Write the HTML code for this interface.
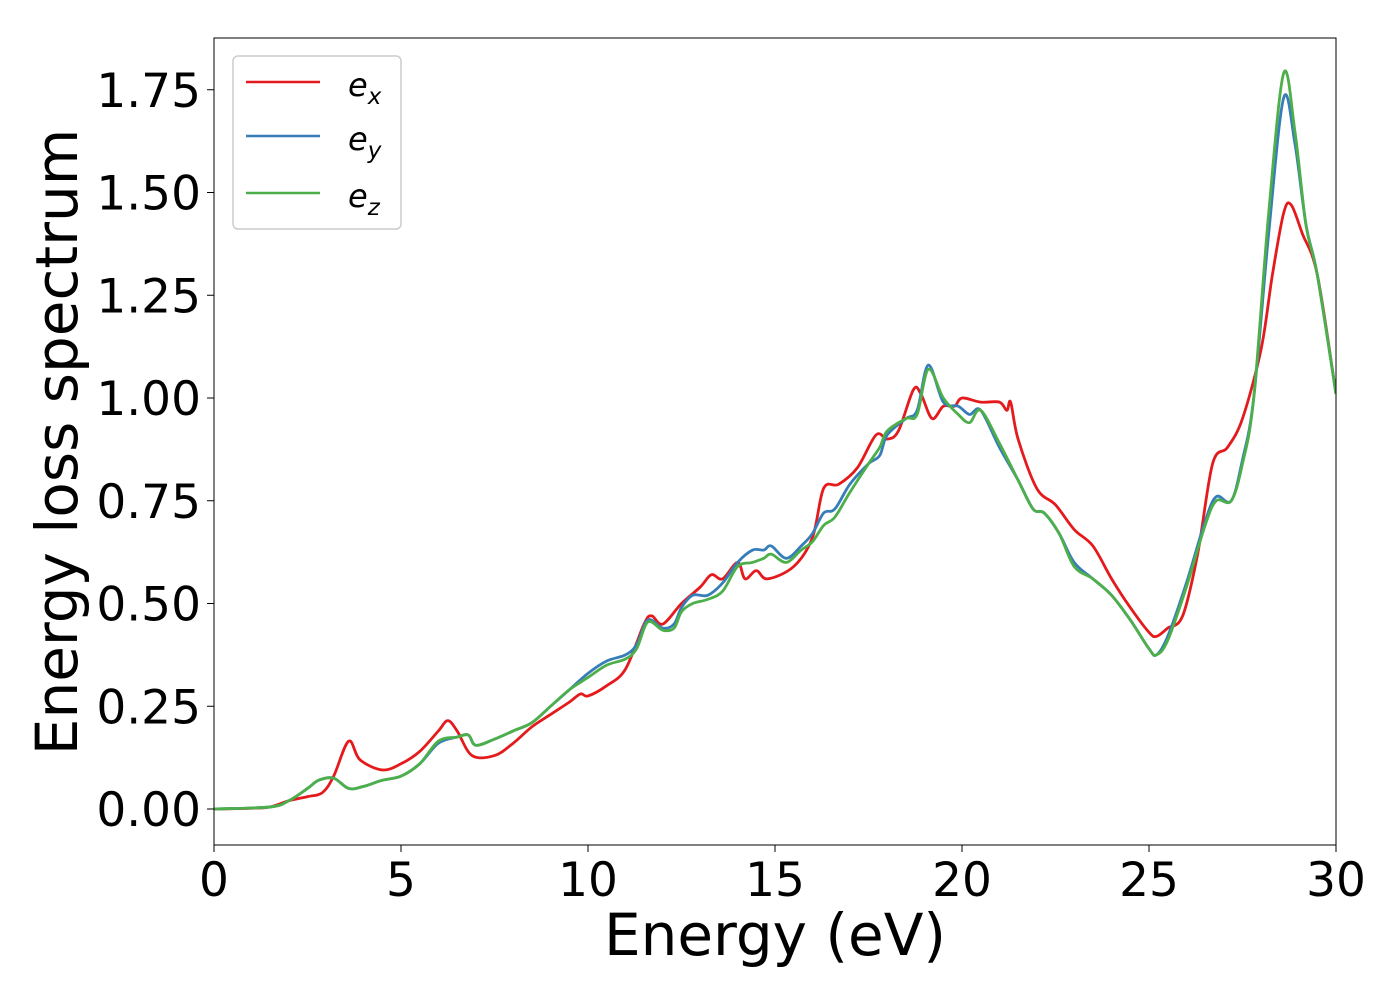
<!DOCTYPE html>
<html><head><meta charset="utf-8"><style>
body{margin:0;background:#fff;}
svg text{font-family:"DejaVu Sans","Liberation Sans",sans-serif;fill:#000;}
</style></head><body>
<svg width="1400" height="1000" viewBox="0 0 1400 1000" xmlns="http://www.w3.org/2000/svg">
<g id="plot"></g>
<g id="axes"></g>
<text x="775" y="955" font-size="58" text-anchor="middle">Energy (eV)</text>
<text transform="translate(77,442) rotate(-90)" font-size="58" text-anchor="middle">Energy loss spectrum</text>
<g>
<rect x="233" y="56" width="168" height="173" rx="5" fill="#fff" stroke="#ccc" stroke-width="1.5"/>
<g><line x1="246" y1="82" x2="320" y2="82" stroke="#e41a1c" stroke-width="2.5"/><text x="348" y="96" font-size="32" font-style="italic">e<tspan font-size="23" dy="8">x</tspan></text></g>
<g><line x1="246" y1="136" x2="320" y2="136" stroke="#377eb8" stroke-width="2.5"/><text x="348" y="150" font-size="32" font-style="italic">e<tspan font-size="23" dy="8">y</tspan></text></g>
<g><line x1="246" y1="193" x2="320" y2="193" stroke="#4daf4a" stroke-width="2.5"/><text x="348" y="207" font-size="32" font-style="italic">e<tspan font-size="23" dy="8">z</tspan></text></g>
</g>
</svg>
<script>
const xTicks=[0,5,10,15,20,25,30];
const yTicks=[0,0.25,0.5,0.75,1.0,1.25,1.5,1.75];
const yTickLabels=["0.00","0.25","0.50","0.75","1.00","1.25","1.50","1.75"];
const exE=[0,1,1.5,2,2.5,2.9,3.2,3.6,3.9,4.5,5,5.5,6,6.25,6.5,6.9,7.5,8,8.5,9,9.5,9.8,10,10.5,11,11.5,11.7,12,12.5,13,13.3,13.6,14,14.2,14.5,14.8,15.5,16,16.3,16.7,17.2,17.7,18,18.3,18.7,18.9,19.2,19.5,19.8,20,20.5,21,21.2,21.3,21.5,22,22.5,23,23.5,24,24.5,25,25.2,25.5,25.9,26.3,26.7,27.1,27.5,28,28.3,28.6,28.8,29.1,29.5,30];
const exV=[0,0.002,0.005,0.02,0.03,0.04,0.08,0.165,0.12,0.095,0.11,0.14,0.19,0.215,0.19,0.13,0.13,0.16,0.2,0.23,0.26,0.28,0.275,0.3,0.34,0.45,0.47,0.45,0.5,0.54,0.57,0.56,0.6,0.56,0.58,0.56,0.59,0.66,0.78,0.79,0.83,0.91,0.9,0.92,1.02,1.01,0.95,0.98,0.98,1.0,0.99,0.99,0.97,0.99,0.9,0.78,0.74,0.68,0.64,0.56,0.49,0.43,0.42,0.44,0.47,0.62,0.84,0.88,0.95,1.12,1.3,1.45,1.47,1.4,1.3,1.01];
const eyE=[0,1.5,2,2.5,2.8,3.2,3.6,4,4.5,5,5.5,6,6.5,6.8,7,7.5,8,8.5,9,9.5,10,10.5,11,11.3,11.6,12,12.3,12.5,12.8,13.2,13.6,14,14.4,14.7,14.9,15.3,15.7,16,16.3,16.6,17,17.5,17.8,18,18.5,18.8,19.1,19.5,19.9,20.2,20.5,21,21.5,21.9,22.2,22.6,23,23.5,24,24.5,25,25.2,25.5,26,26.5,26.8,27.2,27.5,27.8,28.2,28.6,28.9,29.2,29.5,30];
const eyV=[0,0.005,0.02,0.05,0.07,0.075,0.05,0.055,0.07,0.08,0.11,0.16,0.175,0.18,0.155,0.17,0.19,0.21,0.25,0.29,0.33,0.36,0.375,0.4,0.46,0.44,0.45,0.49,0.52,0.52,0.55,0.6,0.63,0.63,0.64,0.61,0.64,0.67,0.72,0.73,0.79,0.84,0.86,0.91,0.95,0.97,1.08,0.99,0.98,0.96,0.97,0.88,0.8,0.73,0.72,0.67,0.6,0.56,0.52,0.46,0.39,0.375,0.42,0.55,0.7,0.76,0.75,0.85,1.0,1.4,1.73,1.62,1.42,1.3,1.01];
const ezE=[0,1.5,2,2.5,2.8,3.2,3.6,4,4.5,5,5.5,6,6.5,6.8,7,7.5,8,8.5,9,9.5,10,10.5,11,11.3,11.6,12,12.3,12.5,12.8,13.2,13.6,14,14.4,14.7,14.9,15.3,15.7,16,16.3,16.6,17,17.5,17.8,18,18.5,18.8,19.1,19.5,19.9,20.2,20.5,21,21.5,21.9,22.2,22.6,23,23.5,24,24.5,25,25.2,25.5,26,26.5,26.8,27.2,27.5,27.8,28.2,28.6,28.9,29.2,29.5,30];
const ezV=[0,0.005,0.02,0.05,0.07,0.075,0.05,0.055,0.07,0.08,0.11,0.165,0.175,0.18,0.155,0.17,0.19,0.21,0.25,0.29,0.32,0.35,0.365,0.39,0.455,0.435,0.44,0.48,0.5,0.51,0.53,0.59,0.6,0.61,0.62,0.6,0.63,0.65,0.69,0.71,0.77,0.84,0.88,0.92,0.95,0.96,1.07,1.0,0.96,0.94,0.97,0.89,0.8,0.73,0.72,0.67,0.59,0.56,0.52,0.46,0.39,0.375,0.41,0.54,0.69,0.75,0.75,0.84,1.0,1.45,1.79,1.65,1.42,1.3,1.01];
const X0=214,X1=1336,YT=38,YB=845;
function sx(e){return X0+(e-0)/(30-0)*(X1-X0);}
function sy(v){return 809-v*411;}
const NS="http://www.w3.org/2000/svg";
const plot=document.getElementById('plot'),axes=document.getElementById('axes');
function smoothPath(E,V){
  const p=E.map((e,i)=>[sx(e),sy(V[i])]);
  let d="M"+p[0][0]+","+p[0][1];
  for(let i=0;i<p.length-1;i++){
    const a=p[i-1]||p[i],b=p[i],c=p[i+1],n=p[i+2]||c;
    const c1=[b[0]+(c[0]-a[0])/6,b[1]+(c[1]-a[1])/6],c2=[c[0]-(n[0]-b[0])/6,c[1]-(n[1]-b[1])/6];
    d+=" C"+c1+" "+c2+" "+c;
  }
  return d;
}
const series=[[exE,exV,"#e41a1c","series-ex"],[eyE,eyV,"#377eb8","series-ey"],[ezE,ezV,"#4daf4a","series-ez"]];
const cp=document.createElementNS(NS,'clipPath');cp.setAttribute('id','clip');
const cr=document.createElementNS(NS,'rect');cr.setAttribute('x',X0);cr.setAttribute('y',YT);cr.setAttribute('width',X1-X0);cr.setAttribute('height',YB-YT);
cp.appendChild(cr);plot.appendChild(cp);
series.forEach(s=>{
  const p=document.createElementNS(NS,'path');
  
  
  p.setAttribute('d',smoothPath(s[0],s[1]));
  p.setAttribute('fill','none');p.setAttribute('stroke',s[2]);p.setAttribute('stroke-width','2.8');
  p.setAttribute('clip-path','url(#clip)');
  plot.appendChild(p);
});
const fr=document.createElementNS(NS,'rect');


fr.setAttribute('x',X0);fr.setAttribute('y',YT);fr.setAttribute('width',X1-X0);fr.setAttribute('height',YB-YT);
fr.setAttribute('fill','none');fr.setAttribute('stroke','#000');fr.setAttribute('stroke-width','1');
axes.appendChild(fr);
xTicks.forEach(t=>{
  const l=document.createElementNS(NS,'line');
  
  
  l.setAttribute('x1',sx(t));l.setAttribute('x2',sx(t));l.setAttribute('y1',YB);l.setAttribute('y2',YB+7);l.setAttribute('stroke','#000');
  axes.appendChild(l);
  const tx=document.createElementNS(NS,'text');
  
  
  tx.setAttribute('x',sx(t));tx.setAttribute('y',YB+51);tx.setAttribute('font-size','47');tx.setAttribute('text-anchor','middle');
  tx.textContent=t;axes.appendChild(tx);
});
yTicks.forEach((t,i)=>{
  const l=document.createElementNS(NS,'line');
  
  
  l.setAttribute('x1',X0-7);l.setAttribute('x2',X0);l.setAttribute('y1',sy(t));l.setAttribute('y2',sy(t));l.setAttribute('stroke','#000');
  axes.appendChild(l);
  const tx=document.createElementNS(NS,'text');
  
  
  tx.setAttribute('x',X0-13);tx.setAttribute('y',sy(t)+17);tx.setAttribute('font-size','47');tx.setAttribute('text-anchor','end');
  tx.textContent=yTickLabels[i];axes.appendChild(tx);
});
</script>
</body></html>
